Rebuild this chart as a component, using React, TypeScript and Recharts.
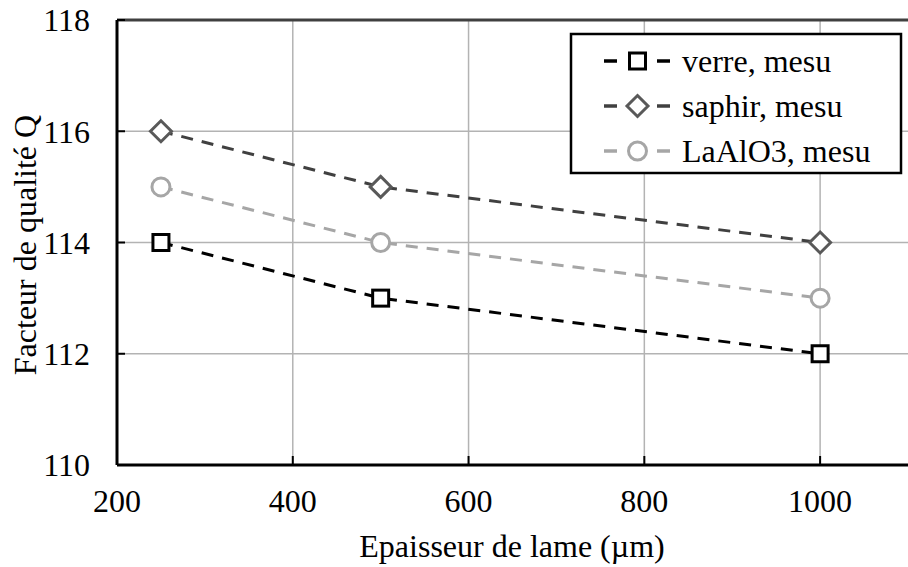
import React from 'react';
import {
  LineChart,
  Line,
  XAxis,
  YAxis,
  CartesianGrid,
  ReferenceLine,
  Label,
} from 'recharts';

const thickness = [250, 500, 1000];
const verre = [114, 113, 112];
const saphir = [116, 115, 114];
const laalo3 = [115, 114, 113];

const xTicks = [200, 400, 600, 800, 1000];
const yTicks = [110, 112, 114, 116, 118];

const FONT = '"Liberation Serif", "Times New Roman", serif';
const FS = 32;

const data = thickness.map((t, i) => ({
  t,
  verre: verre[i],
  saphir: saphir[i],
  laalo3: laalo3[i],
}));

type Marker = 'square' | 'diamond' | 'circle';

const series: { key: string; name: string; color: string; markerColor: string; marker: Marker }[] = [
  { key: 'verre', name: 'verre, mesu', color: '#000000', markerColor: '#000000', marker: 'square' },
  { key: 'saphir', name: 'saphir, mesu', color: '#404040', markerColor: '#595959', marker: 'diamond' },
  { key: 'laalo3', name: 'LaAlO3, mesu', color: '#a6a6a6', markerColor: '#a6a6a6', marker: 'circle' },
];

function MarkerShape({ cx, cy, kind, color }: { cx: number; cy: number; kind: Marker; color: string }) {
  if (kind === 'square') {
    return <rect x={cx - 8} y={cy - 8} width={16} height={16} fill="#fff" stroke={color} strokeWidth={3} />;
  }
  if (kind === 'diamond') {
    return (
      <polygon
        points={`${cx},${cy - 10.5} ${cx + 10.5},${cy} ${cx},${cy + 10.5} ${cx - 10.5},${cy}`}
        fill="#fff"
        stroke={color}
        strokeWidth={3}
      />
    );
  }
  return <circle cx={cx} cy={cy} r={9} fill="#fff" stroke={color} strokeWidth={3} />;
}

function makeDot(kind: Marker, color: string) {
  return (props: any) => {
    const { cx, cy, index } = props;
    if (cx == null || cy == null) return <g key={index} />;
    return (
      <g key={index}>
        <MarkerShape cx={cx} cy={cy} kind={kind} color={color} />
      </g>
    );
  };
}

// legend box drawn over the plot, top right
function LegendBox() {
  return (
    <svg width={908} height={567} style={{ position: 'absolute', left: 0, top: 0, pointerEvents: 'none' }}>
      <rect x={571} y={34} width={330} height={139} fill="#fff" stroke="#000" strokeWidth={2.5} />
      {series.map((s, i) => {
        const cy = 61 + i * 45;
        return (
          <g key={s.key}>
            <line x1={604} y1={cy} x2={617} y2={cy} stroke={s.color} strokeWidth={3.5} />
            <line x1={657} y1={cy} x2={670} y2={cy} stroke={s.color} strokeWidth={3.5} />
            <MarkerShape cx={637.5} cy={cy} kind={s.marker} color={s.markerColor} />
            <text x={682} y={cy + 11} style={{ fontFamily: FONT, fontSize: FS, fill: '#000' }}>
              {s.name}
            </text>
          </g>
        );
      })}
    </svg>
  );
}

const tickStyle = { fontFamily: FONT, fontSize: FS, fill: '#000' };

export default function App() {
  return (
    <div style={{ position: 'absolute', left: 0, top: 0, width: 908, height: 567, background: '#fff', fontFamily: FONT }}>
      <LineChart
        width={908}
        height={567}
        data={data}
        margin={{ top: 20, right: 0, bottom: 0, left: 0 }}
        style={{ fontFamily: FONT }}
      >
        <CartesianGrid stroke="#b3b3b3" strokeWidth={1.5} verticalValues={xTicks} horizontalValues={yTicks} />
        <XAxis
          dataKey="t"
          type="number"
          domain={[200, 1100]}
          ticks={xTicks}
          height={102}
          axisLine={{ stroke: '#000', strokeWidth: 3 }}
          tickLine={{ stroke: '#000', strokeWidth: 2 }}
          tickSize={-9}
          tickMargin={33}
          tick={tickStyle}
          fontFamily={FONT}
          fontSize={FS}
          allowDataOverflow
        >
          <Label
            content={() => (
              <text x={512} y={557} textAnchor="middle" style={{ fontFamily: FONT, fontSize: FS, fill: '#000' }}>
                Epaisseur de lame (µm)
              </text>
            )}
          />
        </XAxis>
        <YAxis
          type="number"
          domain={[110, 118]}
          ticks={yTicks}
          width={117}
          axisLine={{ stroke: '#000', strokeWidth: 3 }}
          tickLine={{ stroke: '#000', strokeWidth: 2 }}
          tickSize={-8}
          tickMargin={35}
          tick={tickStyle}
          fontFamily={FONT}
          fontSize={FS}
        >
          <Label
            content={() => (
              <text
                x={0}
                y={0}
                transform="translate(36 245) rotate(-90)"
                textAnchor="middle"
                style={{ fontFamily: FONT, fontSize: FS, fill: '#000' }}
              >
                Facteur de qualité Q
              </text>
            )}
          />
        </YAxis>
        <ReferenceLine y={118} stroke="#404040" strokeWidth={3} />
        {series.map((s) => (
          <Line
            key={s.key}
            dataKey={s.key}
            name={s.name}
            stroke={s.color}
            strokeWidth={3}
            strokeDasharray="12 9"
            type="linear"
            dot={makeDot(s.marker, s.markerColor)}
            activeDot={false}
            isAnimationActive={false}
          />
        ))}
      </LineChart>
      <LegendBox />
    </div>
  );
}
